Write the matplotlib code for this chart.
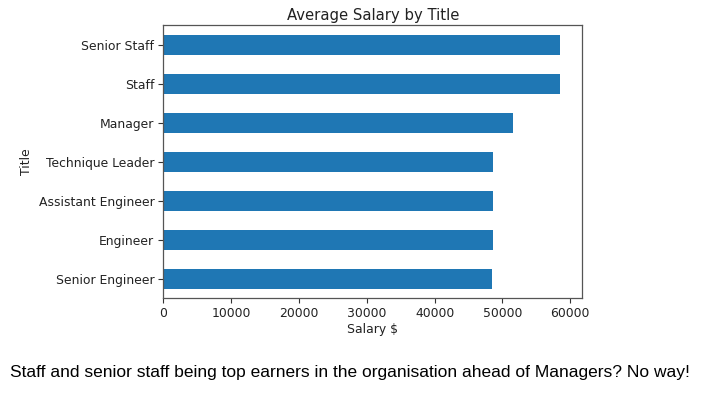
import matplotlib
matplotlib.use("Agg")
import matplotlib.pyplot as plt

titles = ["Senior Engineer", "Engineer", "Assistant Engineer", "Technique Leader",
          "Manager", "Staff", "Senior Staff"]
salaries = [48507, 48535, 48564, 48583, 51531, 58465, 58550]

fig = plt.figure(figsize=(7.03, 3.98), dpi=100)
ax = fig.add_axes([0.2323, 0.2505, 0.596, 0.6855])

ax.barh(titles, salaries, height=0.5, color="#1f77b4")
ax.set_xlim(0, max(salaries) * 1.055)
ax.set_ylim(-0.5, len(titles) - 0.5)
ax.set_xticks([0, 10000, 20000, 30000, 40000, 50000, 60000])
ax.tick_params(labelsize=8.9, colors="#333333", labelcolor="#222222", length=3.5, pad=3)
for s in ax.spines.values():
    s.set_color("#555555")
    s.set_linewidth(0.9)

ax.set_title("Average Salary by Title", fontsize=10.7, color="#222222", pad=4)
ax.set_xlabel("Salary $", fontsize=8.9, color="#222222", labelpad=2)
ax.set_ylabel("Title", fontsize=8.9, color="#222222", labelpad=4)

fig.text(0.0142, 0.063, "Staff and senior staff being top earners in the organisation ahead of Managers? No way!",
         fontsize=12.5, family="Liberation Sans", color="black", va="center")

fig.savefig("out.png", dpi=100)
